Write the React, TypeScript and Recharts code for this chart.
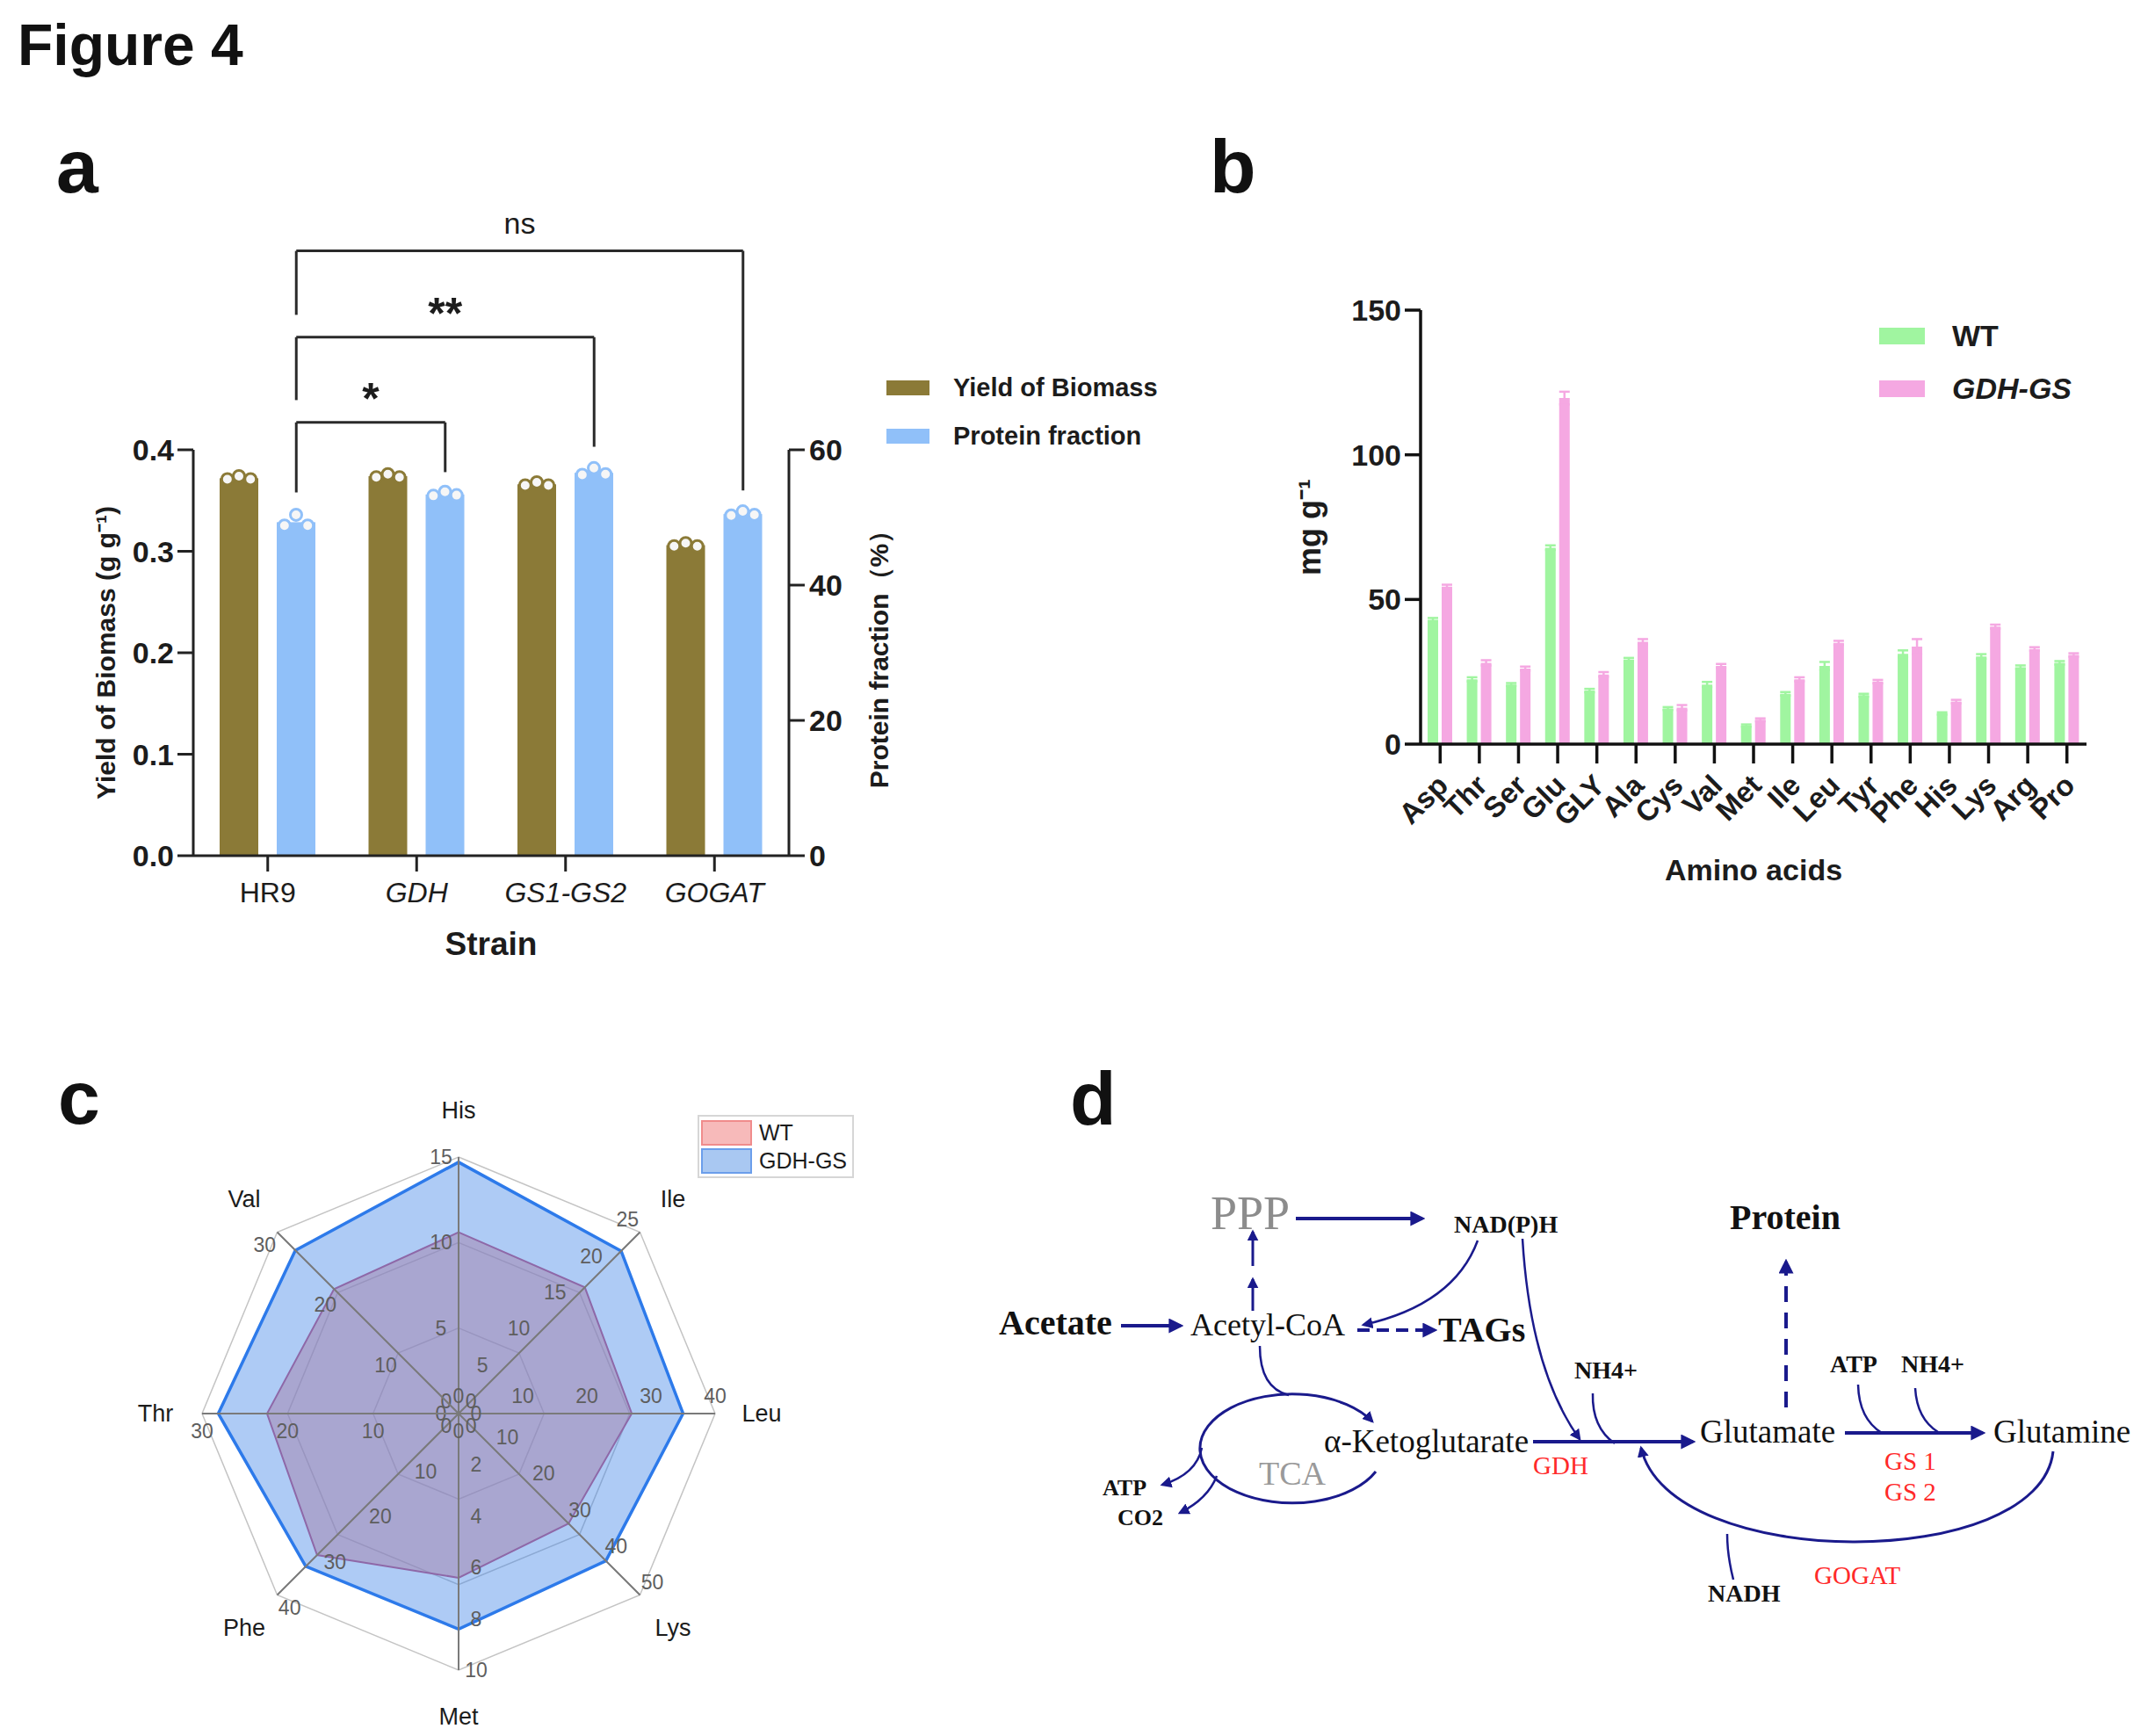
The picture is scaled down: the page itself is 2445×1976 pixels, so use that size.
import React from 'react';
import {
  BarChart, Bar, XAxis, YAxis, ReferenceLine, Legend, ErrorBar,
  RadarChart, Radar, PolarGrid, PolarAngleAxis, PolarRadiusAxis,
} from 'recharts';

const SANS = '"Liberation Sans", Arial, Helvetica, sans-serif';
const SERIF = '"Liberation Serif", "Times New Roman", serif';
const INK = '#1c1c1c';
const OLIVE = '#8B7A37';
const SKY = '#90C0F9';
const GREEN = '#A0F5A0';
const PINK = '#F5A8E2';
const NAVY = '#1A1A8C';
const RED = '#FF2A2A';

// ---- panel a: biomass yield & protein fraction per strain
const strains = ['HR9', 'GDH', 'GS1-GS2', 'GOGAT'];
const biomassYield = [0.372, 0.374, 0.366, 0.306];
const proteinFraction = [49.3, 53.4, 56.6, 50.5];
const biomassReps = [
  [0.371, 0.374, 0.371],
  [0.373, 0.376, 0.373],
  [0.365, 0.368, 0.365],
  [0.305, 0.308, 0.305],
];
const proteinReps = [
  [48.8, 50.4, 48.8],
  [53.2, 53.8, 53.3],
  [56.3, 57.3, 56.4],
  [50.3, 50.9, 50.4],
];

// significance brackets, all from HR9
const bracketTargets = [1, 2, 3];
const bracketLabels = ['*', '**', 'ns'];
const bracketTop = [0.427, 0.511, 0.596];
const bracketLeftEnd = [0.358, 0.449, 0.533];
const bracketRightEnd = [0.378, 0.403, 0.36];

// ---- panel b: amino acid content
const aminoAcids = ['Asp', 'Thr', 'Ser', 'Glu', 'GLY', 'Ala', 'Cys', 'Val', 'Met', 'Ile', 'Leu', 'Tyr', 'Phe', 'His', 'Lys', 'Arg', 'Pro'];
const wtContent = [43.0, 22.4, 20.6, 67.9, 18.5, 29.2, 12.3, 20.6, 6.4, 17.4, 27.0, 16.9, 31.2, 10.6, 30.3, 26.6, 28.1];
const gsContent = [54.4, 28.1, 26.1, 119.6, 24.1, 35.4, 12.6, 27.0, 8.4, 22.4, 35.0, 21.6, 33.7, 14.7, 40.6, 32.9, 30.8];
const wtErr = [0.6, 0.7, 0.5, 0.8, 0.6, 0.6, 0.5, 0.9, 0.4, 0.6, 1.4, 0.5, 1.2, 0.4, 0.8, 0.6, 0.6];
const gsErr = [0.7, 0.9, 0.7, 2.2, 0.8, 0.9, 0.9, 0.7, 0.5, 0.7, 0.7, 0.6, 2.6, 0.6, 0.7, 0.6, 0.6];

// ---- panel c: spider chart axes (each axis has its own scale)
const radarAxes = ['His', 'Ile', 'Leu', 'Lys', 'Met', 'Phe', 'Thr', 'Val'];
const radarMax = [15, 25, 40, 50, 10, 40, 30, 30];
const radarTickCount = [4, 6, 5, 6, 6, 5, 4, 4];

const dataA = strains.map((s, i) => ({ strain: s, biomass: biomassYield[i], protein: proteinFraction[i] }));
const dataB = aminoAcids.map((aa, i) => ({ aa, wt: wtContent[i], gs: gsContent[i], wtErr: wtErr[i], gsErr: gsErr[i] }));
const dataC = radarAxes.map((ax, i) => {
  const k = aminoAcids.indexOf(ax);
  return { axis: ax, wt: wtContent[k] / radarMax[i], gs: gsContent[k] / radarMax[i] };
});

// blue bar centre relative to band centre, in band units (numeric helper axis)
const BLUE_SHIFT = 32.5 / 169.5;

const dotBar = (reps: number[][], key: string, color: string) => (props: any) => {
  const { x, y, width, height, payload } = props;
  const idx = strains.indexOf(payload.strain);
  const v = payload[key];
  const perUnit = height / v;
  const base = y + height;
  return (
    <g>
      <rect x={x} y={y} width={width} height={height} fill={color} />
      {reps[idx].map((r, k) => (
        <circle key={k} cx={x + width * (0.2 + 0.3 * k)} cy={base - r * perUnit} r={6.5}
          fill="#f6f6f6" stroke={color} strokeWidth={3} />
      ))}
    </g>
  );
};

const StrainTick = (props: any) => {
  const { x, y, payload } = props;
  return (
    <text x={x} y={y} dy={33} textAnchor="middle" fontFamily={SANS} fontSize={32} fill={INK}
      fontStyle={payload.value === 'HR9' ? 'normal' : 'italic'}>
      {payload.value}
    </text>
  );
};

const inOrder = (payload: any[], names: string[]) =>
  names.map((n) => payload.find((p: any) => p.value === n)).filter(Boolean);

const LegendA = (props: any) => (
  <div style={{ fontFamily: SANS, fontWeight: 700, fontSize: 29, color: INK }}>
    {inOrder(props.payload || [], ['Yield of Biomass', 'Protein fraction']).map((p: any) => (
      <div key={p.value} style={{ display: 'flex', alignItems: 'center', height: 55 }}>
        <span style={{ display: 'inline-block', width: 49, height: 17, background: p.color, marginRight: 27 }} />
        {p.value}
      </div>
    ))}
  </div>
);

function PanelA() {
  const axisStyle = { stroke: '#222', strokeWidth: 3 };
  const tickFont = { fill: INK, fontSize: 34, fontWeight: 700, fontFamily: SANS };
  return (
    <BarChart width={1400} height={1100} data={dataA} barGap={21}
      margin={{ top: 512, right: 382, bottom: 0, left: 100 }}>
      <XAxis dataKey="strain" height={126} interval={0} tickSize={18} tickMargin={2}
        axisLine={axisStyle} tickLine={axisStyle} tick={<StrainTick />}
        label={{ value: 'Strain', position: 'insideBottom', offset: 13, fontSize: 37, fontWeight: 700, fontFamily: SANS, fill: INK }} />
      <XAxis xAxisId="num" type="number" dataKey={(d: any) => strains.indexOf(d.strain)}
        domain={[0, 4]} allowDataOverflow hide />
      <YAxis yAxisId="left" width={120} domain={[0, 0.4]} ticks={[0, 0.1, 0.2, 0.3, 0.4]}
        tickFormatter={(v: number) => v.toFixed(1)} tickSize={18} tickMargin={4}
        axisLine={axisStyle} tickLine={axisStyle} tick={tickFont}
        label={{ value: 'Yield of Biomass (g g⁻¹)', angle: -90, position: 'insideLeft', offset: 20,
          fontSize: 30, fontWeight: 700, fontFamily: SANS, fill: INK, style: { textAnchor: 'middle' } }} />
      <YAxis yAxisId="right" orientation="right" width={120} domain={[0, 60]} ticks={[0, 20, 40, 60]}
        tickSize={18} tickMargin={5} axisLine={axisStyle} tickLine={axisStyle} tick={tickFont}
        label={{ value: 'Protein fraction（%）', angle: -90, position: 'insideRight', offset: 18,
          fontSize: 30, fontWeight: 700, fontFamily: SANS, fill: INK, style: { textAnchor: 'middle' } }} />
      <Legend layout="vertical" align="center" verticalAlign="middle" content={<LegendA />}
        wrapperStyle={{ left: 1009, top: 414, width: 360 }} />
      <Bar yAxisId="left" dataKey="biomass" name="Yield of Biomass" fill={OLIVE} barSize={44}
        shape={dotBar(biomassReps, 'biomass', OLIVE)} isAnimationActive={false} />
      <Bar yAxisId="right" dataKey="protein" name="Protein fraction" fill={SKY} barSize={44}
        shape={dotBar(proteinReps, 'protein', SKY)} isAnimationActive={false} />
      {bracketTargets.map((t, i) => {
        const x0 = 0.5 + BLUE_SHIFT;
        const x1 = t + 0.5 + BLUE_SHIFT;
        const line = { xAxisId: 'num', yAxisId: 'left', ifOverflow: 'visible' as const, stroke: '#2a2a2a', strokeWidth: 3 };
        const isNs = bracketLabels[i] === 'ns';
        return (
          <React.Fragment key={i}>
            <ReferenceLine {...line} segment={[{ x: x0, y: bracketLeftEnd[i] }, { x: x0, y: bracketTop[i] }]} />
            <ReferenceLine {...line} segment={[{ x: x1, y: bracketRightEnd[i] }, { x: x1, y: bracketTop[i] }]} />
            <ReferenceLine {...line} segment={[{ x: x0, y: bracketTop[i] }, { x: x1, y: bracketTop[i] }]}
              label={{ value: bracketLabels[i], position: 'top', offset: isNs ? 20 : 10,
                fontSize: isNs ? 34 : 50, fontWeight: isNs ? 400 : 700, fontFamily: SANS, fill: INK }} />
          </React.Fragment>
        );
      })}
    </BarChart>
  );
}

const SlantTick = (props: any) => {
  const { x, y, payload } = props;
  const ax = x + 11;
  const ay = y + 25;
  return (
    <text x={ax} y={ay} transform={`rotate(-45 ${ax} ${ay})`} textAnchor="end"
      fontFamily={SANS} fontSize={33} fontWeight={700} fill={INK}>
      {payload.value}
    </text>
  );
};

const LegendB = (props: any) => (
  <div style={{ fontFamily: SANS, fontWeight: 700, fontSize: 34, color: INK }}>
    {inOrder(props.payload || [], ['WT', 'GDH-GS']).map((p: any) => (
      <div key={p.value} style={{ display: 'flex', alignItems: 'center', height: 60 }}>
        <span style={{ display: 'inline-block', width: 52, height: 19, background: p.color, marginRight: 31 }} />
        <span style={{ fontStyle: p.value === 'WT' ? 'normal' : 'italic' }}>{p.value}</span>
      </div>
    ))}
  </div>
);

function PanelB() {
  const axisStyle = { stroke: '#111', strokeWidth: 3.5 };
  return (
    <BarChart width={1065} height={870} data={dataB} barGap={4}
      margin={{ top: 203, right: 70, bottom: 0, left: 57 }}>
      <XAxis dataKey="aa" height={173} interval={0} tickSize={22} tickMargin={2}
        axisLine={axisStyle} tickLine={axisStyle} tick={<SlantTick />}
        label={{ value: 'Amino acids', position: 'insideBottom', offset: 18, fontSize: 34, fontWeight: 700, fontFamily: SANS, fill: INK }} />
      <YAxis width={180} domain={[0, 150]} ticks={[0, 50, 100, 150]} tickSize={18} tickMargin={4}
        axisLine={axisStyle} tickLine={axisStyle}
        tick={{ fill: INK, fontSize: 34, fontWeight: 700, fontFamily: SANS }}
        label={{ value: 'mg g⁻¹', angle: -90, position: 'insideLeft', offset: 53,
          fontSize: 36, fontWeight: 700, fontFamily: SANS, fill: INK, style: { textAnchor: 'middle' } }} />
      <Legend layout="vertical" align="center" verticalAlign="middle" content={<LegendB />}
        wrapperStyle={{ left: 759, top: 202, width: 260 }} />
      <Bar dataKey="wt" name="WT" fill={GREEN} barSize={12} isAnimationActive={false}>
        <ErrorBar dataKey="wtErr" width={6} stroke={GREEN} strokeWidth={2.5} direction="y" />
      </Bar>
      <Bar dataKey="gs" name="GDH-GS" fill={PINK} barSize={12} isAnimationActive={false}>
        <ErrorBar dataKey="gsErr" width={6} stroke={PINK} strokeWidth={2.5} direction="y" />
      </Bar>
    </BarChart>
  );
}

// radar geometry (chart-local)
const RCX = 522;
const RCY = 429;
const RR = 292;

const AngleTick = (props: any) => {
  const { index, payload } = props;
  const a = ((90 - 45 * index) * Math.PI) / 180;
  return (
    <text x={RCX + 345 * Math.cos(a)} y={RCY - 345 * Math.sin(a)} textAnchor="middle" dominantBaseline="central"
      fontFamily={SANS} fontSize={27} fill={INK}>
      {payload.value}
    </text>
  );
};

const spokeTick = (k: number) => (props: any) => {
  const { x, y, payload } = props;
  const a = ((180 - 45 * k) * Math.PI) / 180;
  return (
    <text x={x + 20 * Math.cos(a)} y={y - 20 * Math.sin(a)} textAnchor="middle" dominantBaseline="central"
      fontFamily={SANS} fontSize={23} fill="#5e5e5e">
      {payload.value}
    </text>
  );
};

const LegendC = () => (
  <div style={{ border: '2px solid #d6d6d6', background: '#fff', padding: '2px 6px 2px 2px', fontFamily: SANS, fontSize: 25, color: INK }}>
    {[
      { name: 'WT', fill: '#F7BABA', edge: '#F08C8C' },
      { name: 'GDH-GS', fill: '#A9C8F2', edge: '#6B9EEB' },
    ].map((e) => (
      <div key={e.name} style={{ display: 'flex', alignItems: 'center', height: 32 }}>
        <span style={{ display: 'inline-block', width: 54, height: 25, background: e.fill, border: `2px solid ${e.edge}`, marginRight: 8 }} />
        {e.name}
      </div>
    ))}
  </div>
);

function PanelC() {
  return (
    <RadarChart width={1000} height={796} data={dataC} cx={RCX} cy={RCY} outerRadius={RR} innerRadius={0}>
      <PolarGrid gridType="polygon" polarRadius={[RR / 3, (2 * RR) / 3, RR]} stroke="#c4c4c4" strokeWidth={1.5} />
      <PolarAngleAxis dataKey="axis" tick={<AngleTick />} tickLine={false} axisLine={false} />
      <PolarRadiusAxis radiusAxisId={0} type="number" domain={[0, 1]} allowDataOverflow tick={false} axisLine={false} />
      {radarAxes.map((ax, k) => (
        <PolarRadiusAxis key={ax} radiusAxisId={k + 1} type="number" angle={90 - 45 * k}
          domain={[0, radarMax[k]]} allowDataOverflow tickCount={radarTickCount[k]}
          axisLine={{ stroke: '#7a7a7a', strokeWidth: 2 }} tick={spokeTick(k)} />
      ))}
      <Radar name="WT" dataKey="wt" stroke="#C8557A" strokeWidth={2} fill="#F08080" fillOpacity={0.5}
        dot={false} isAnimationActive={false} />
      <Radar name="GDH-GS" dataKey="gs" stroke="#2D7AEA" strokeWidth={3.5} fill="#3D83E8" fillOpacity={0.42}
        dot={false} isAnimationActive={false} />
      <Legend content={<LegendC />} layout="vertical" align="center" verticalAlign="middle"
        wrapperStyle={{ left: 794, top: 89, width: 'auto' }} />
    </RadarChart>
  );
}

function Pathway() {
  const t = (x: number, y: number, s: string, size: number, opts: any = {}) => (
    <text x={x} y={y} fontFamily={SERIF} fontSize={size} fill={opts.fill || '#111'}
      fontWeight={opts.bold ? 700 : 400}>{s}</text>
  );
  const line = { fill: 'none', stroke: NAVY };
  return (
    <g>
      <defs>
        <marker id="hb" viewBox="0 0 10 10" refX="8" refY="5" markerWidth="17" markerHeight="17"
          markerUnits="userSpaceOnUse" orient="auto">
          <path d="M0,0 L10,5 L0,10 z" fill={NAVY} />
        </marker>
        <marker id="hs" viewBox="0 0 10 10" refX="8" refY="5" markerWidth="13" markerHeight="13"
          markerUnits="userSpaceOnUse" orient="auto">
          <path d="M0,0 L10,5 L0,10 z" fill={NAVY} />
        </marker>
      </defs>
      {t(1378, 1399, 'PPP', 54, { fill: '#8c8c8c' })}
      {t(1655, 1403, 'NAD(P)H', 28, { bold: true })}
      {t(1969, 1399, 'Protein', 40, { bold: true })}
      {t(1137, 1519, 'Acetate', 40, { bold: true })}
      {t(1355, 1520, 'Acetyl-CoA', 36)}
      {t(1637, 1527, 'TAGs', 40, { bold: true })}
      {t(1792, 1569, 'NH4+', 28, { bold: true })}
      {t(1507, 1653, 'α-Ketoglutarate', 37)}
      {t(1745, 1678, 'GDH', 29, { fill: RED })}
      {t(1935, 1642, 'Glutamate', 37)}
      {t(2269, 1642, 'Glutamine', 37)}
      {t(2083, 1562, 'ATP', 28, { bold: true })}
      {t(2164, 1562, 'NH4+', 28, { bold: true })}
      {t(2145, 1673, 'GS 1', 29, { fill: RED })}
      {t(2145, 1708, 'GS 2', 29, { fill: RED })}
      {t(1433, 1690, 'TCA', 38, { fill: '#9a9a9a' })}
      {t(1255, 1702, 'ATP', 26, { bold: true })}
      {t(1272, 1736, 'CO2', 26, { bold: true })}
      {t(1944, 1823, 'NADH', 28, { bold: true })}
      {t(2065, 1803, 'GOGAT', 29, { fill: RED })}

      <path d="M1475,1387 L1619,1387" {...line} strokeWidth={4} markerEnd="url(#hb)" />
      <path d="M1426,1492 L1426,1456" {...line} strokeWidth={3} markerEnd="url(#hs)" />
      <path d="M1426,1441 L1426,1402" {...line} strokeWidth={3} markerEnd="url(#hs)" />
      <path d="M1276,1509 L1344,1509" {...line} strokeWidth={4} markerEnd="url(#hb)" />
      <path d="M1682,1412 Q1655,1485 1552,1508" {...line} strokeWidth={2.5} markerEnd="url(#hs)" />
      <path d="M1545,1514 L1633,1514" {...line} strokeWidth={4} strokeDasharray="14 8" markerEnd="url(#hb)" />
      <path d="M1733,1410 Q1742,1560 1798,1638" {...line} strokeWidth={2.5} markerEnd="url(#hs)" />
      <path d="M1813,1586 Q1812,1625 1838,1643" {...line} strokeWidth={2.5} />
      <path d="M1745,1641 L1927,1641" {...line} strokeWidth={4} markerEnd="url(#hb)" />
      <path d="M1434,1532 Q1434,1580 1467,1588" {...line} strokeWidth={2.5} />
      <path d="M1566,1675 A105,62 0 1 1 1562,1618" {...line} strokeWidth={3} markerEnd="url(#hs)" />
      <path d="M1368,1648 Q1362,1678 1323,1690" {...line} strokeWidth={2.5} markerEnd="url(#hs)" />
      <path d="M1385,1680 Q1375,1706 1343,1722" {...line} strokeWidth={2.5} markerEnd="url(#hs)" />
      <path d="M2100,1631 L2257,1631" {...line} strokeWidth={4} markerEnd="url(#hb)" />
      <path d="M2115,1576 Q2116,1615 2142,1631" {...line} strokeWidth={2.5} />
      <path d="M2180,1580 Q2182,1615 2206,1630" {...line} strokeWidth={2.5} />
      <path d="M2033,1602 L2033,1436" {...line} strokeWidth={4} strokeDasharray="18 12" markerEnd="url(#hb)" />
      <path d="M2337,1652 C2322,1790 1900,1790 1868,1648" {...line} strokeWidth={3} markerEnd="url(#hs)" />
      <path d="M1973,1798 Q1966,1770 1966,1746" {...line} strokeWidth={2.5} />
    </g>
  );
}

export default function App() {
  const letter = { fontFamily: SANS, fontWeight: 700, fontSize: 86, fill: '#111' };
  return (
    <div style={{ position: 'absolute', left: 0, top: 0, width: 2445, height: 1976, background: '#fff', overflow: 'hidden' }}>
      <svg width={2445} height={1976} style={{ position: 'absolute', left: 0, top: 0 }}>
        <text x={20} y={74} fontFamily={SANS} fontWeight={700} fontSize={66} fill="#111">Figure 4</text>
        <text x={64} y={219} {...letter}>a</text>
        <text x={1377} y={219} {...letter}>b</text>
        <text x={66} y={1279} {...letter}>c</text>
        <text x={1218} y={1280} {...letter}>d</text>
        <Pathway />
      </svg>
      <div style={{ position: 'absolute', left: 0, top: 0 }}><PanelA /></div>
      <div style={{ position: 'absolute', left: 1380, top: 150 }}><PanelB /></div>
      <div style={{ position: 'absolute', left: 0, top: 1180 }}><PanelC /></div>
    </div>
  );
}
